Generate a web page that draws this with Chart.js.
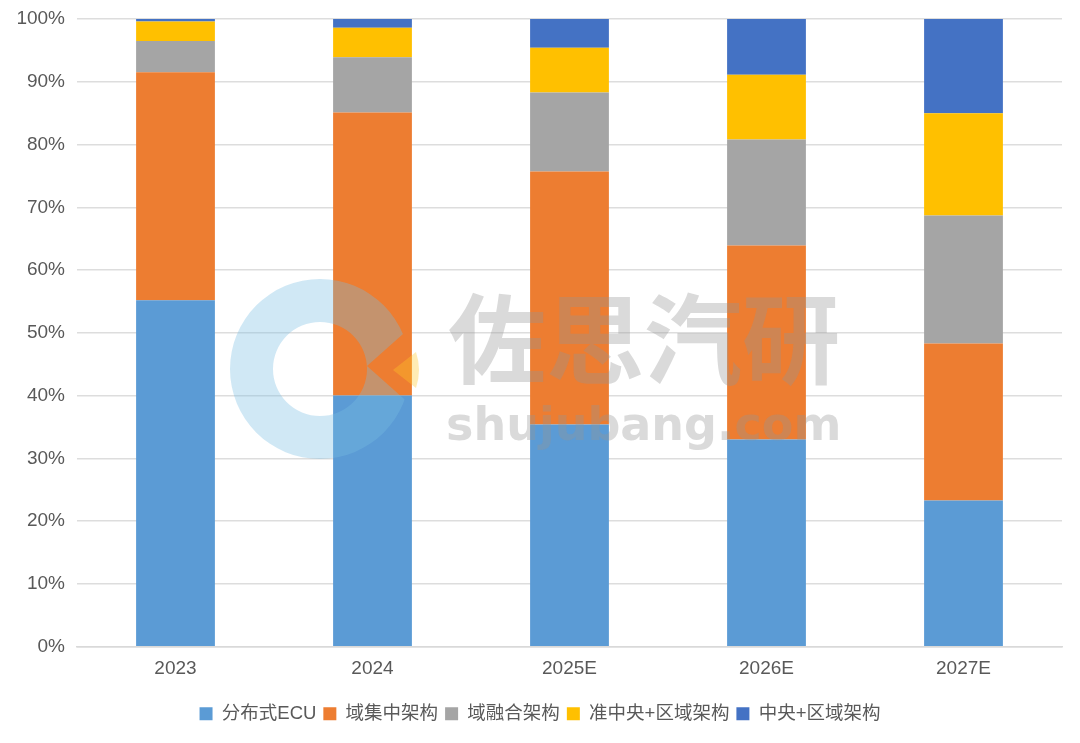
<!DOCTYPE html>
<html>
<head>
<meta charset="utf-8">
<script src="https://cdn.jsdelivr.net/npm/chart.js@4.4.1/dist/chart.umd.min.js"></script>
<style>
  html, body { margin: 0; padding: 0; background: #ffffff; }
  #wrap { width: 1080px; height: 743px; position: relative; }
</style>
</head>
<body>
<div id="wrap"><canvas id="archChart"></canvas></div>
<script>
// Categories and series shares (%)
const years = ['2023', '2024', '2025E', '2026E', '2027E'];
const distributedEcu = [55.2, 40.0, 35.4, 33.0, 23.3];
const domainCentral = [36.3, 45.1, 40.3, 30.9, 25.0];
const domainFusion = [5.0, 8.8, 12.6, 16.9, 20.4];
const quasiCentralZone = [3.1, 4.7, 7.1, 10.3, 16.3];
const centralZone = [0.4, 1.4, 4.6, 8.9, 15.0];
const seriesNames = ['分布式ECU', '域集中架构', '域融合架构', '准中央+区域架构', '中央+区域架构'];

const FONT = '"Liberation Sans", "Noto Sans CJK SC", sans-serif';
const textColor = '#595959';

// watermark drawn over the plot, like the source image
const watermark = {
    id: 'watermark',
    afterDraw(chart) {
        const ctx = chart.ctx;
        ctx.save();
        // ring logo with a notch on the right
        const cx = 320, cy = 369, ro = 90, ri = 47;
        ctx.save();
        ctx.beginPath();
        ctx.rect(0, 0, chart.width, chart.height);
        ctx.moveTo(367, 366);
        ctx.lineTo(430, 310);
        ctx.lineTo(430, 422);
        ctx.closePath();
        ctx.clip('evenodd');
        ctx.beginPath();
        ctx.arc(cx, cy, ro, 0, Math.PI * 2);
        ctx.arc(cx, cy, ri, 0, Math.PI * 2, true);
        ctx.fillStyle = 'rgba(120, 190, 225, 0.35)';
        ctx.fill();
        ctx.restore();
        // small arrow tip
        ctx.beginPath();
        ctx.moveTo(393, 370);
        ctx.lineTo(416, 352);
        ctx.quadraticCurveTo(422, 370, 416, 388);
        ctx.closePath();
        ctx.fillStyle = 'rgba(255, 200, 40, 0.35)';
        ctx.fill();
        // text
        ctx.fillStyle = 'rgba(150, 150, 150, 0.35)';
        ctx.textBaseline = 'alphabetic';
        ctx.textAlign = 'left';
        ctx.font = 'bold 98px "Noto Sans CJK SC", sans-serif';
        ctx.fillText('佐思汽研', 448, 376);
        ctx.font = 'bold 46px "DejaVu Sans", sans-serif';
        ctx.fillText('shujubang.com', 446, 440);
        ctx.restore();
    }
};

const ctx = document.getElementById('archChart');
new Chart(ctx, {
    type: 'bar',
    data: {
        labels: years,
        datasets: [
            { label: seriesNames[0], data: distributedEcu, backgroundColor: '#5B9BD5' },
            { label: seriesNames[1], data: domainCentral, backgroundColor: '#ED7D31' },
            { label: seriesNames[2], data: domainFusion, backgroundColor: '#A5A5A5' },
            { label: seriesNames[3], data: quasiCentralZone, backgroundColor: '#FFC000' },
            { label: seriesNames[4], data: centralZone, backgroundColor: '#4472C4' }
        ]
    },
    options: {
        responsive: true,
        maintainAspectRatio: false,
        animation: false,
        datasets: {
            bar: { categoryPercentage: 1.0, barPercentage: 0.4, borderWidth: 0 }
        },
        layout: { padding: { top: 19, right: 18, left: 18, bottom: 10 } },
        plugins: {
            tooltip: { enabled: false },
            legend: {
                position: 'bottom',
                labels: {
                    boxWidth: 13,
                    boxHeight: 13,
                    padding: 7,
                    color: textColor,
                    font: { family: FONT, size: 18.5 }
                }
            }
        },
        scales: {
            x: {
                stacked: true,
                grid: { display: false, drawTicks: false },
                border: { color: '#d9d9d9', width: 1.5 },
                afterFit: s => { s.height += 6; },
                ticks: { color: textColor, font: { family: FONT, size: 19 }, padding: 11 }
            },
            y: {
                stacked: true,
                min: 0,
                max: 100,
                afterFit: s => { s.width = 59; s.paddingTop = 0; },
                grid: { color: '#dddddd', lineWidth: 1.5, drawTicks: false },
                border: { display: false },
                ticks: {
                    stepSize: 10,
                    padding: 12,
                    color: textColor,
                    font: { family: FONT, size: 19 },
                    callback: v => v + '%'
                }
            }
        }
    },
    plugins: [watermark]
});
</script>
</body>
</html>
